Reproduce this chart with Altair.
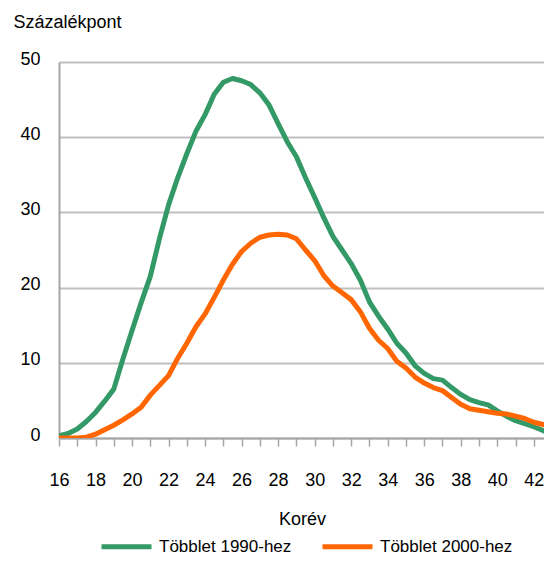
import altair as alt
import pandas as pd

ages = [16 + 0.5 * i for i in range(55)]

green_1990 = [0.3, 0.6, 1.2, 2.2, 3.4, 4.9, 6.5, 10.5, 14.3, 18.0,
              21.5, 26.5, 31.0, 34.6, 37.8, 40.8, 43.0, 45.7, 47.3, 47.8,
              47.5, 47.0, 45.9, 44.3, 41.8, 39.4, 37.4, 34.6, 32.0, 29.3,
              26.8, 25.0, 23.2, 21.0, 18.1, 16.2, 14.5, 12.6, 11.3, 9.6,
              8.6, 7.9, 7.7, 6.7, 5.8, 5.1, 4.7, 4.4, 3.6, 2.9,
              2.3, 1.9, 1.5, 1.0, 0.5]

orange_2000 = [0.0, 0.0, 0.0, 0.1, 0.5, 1.1, 1.7, 2.4, 3.2, 4.1,
               5.7, 7.0, 8.3, 10.6, 12.6, 14.8, 16.5, 18.7, 21.0, 23.1,
               24.8, 25.9, 26.7, 27.0, 27.1, 27.0, 26.5, 25.0, 23.6, 21.6,
               20.2, 19.3, 18.4, 16.8, 14.6, 13.0, 11.9, 10.2, 9.3, 8.1,
               7.3, 6.7, 6.3, 5.4, 4.5, 3.9, 3.7, 3.5, 3.3, 3.2,
               2.9, 2.6, 2.1, 1.8, 1.4]

series_names = ["Többlet 1990-hez", "Többlet 2000-hez"]
series_colors = ["#339966", "#ff6600"]
x_ticks = list(range(16, 43))
y_ticks = [0, 10, 20, 30, 40, 50]

rows = []
for a, v in zip(ages, green_1990):
    rows.append({"age": a, "value": v, "series": series_names[0]})
for a, v in zip(ages, orange_2000):
    rows.append({"age": a, "value": v, "series": series_names[1]})
df = pd.DataFrame(rows)

FONT = "Liberation Sans"

chart = alt.Chart(df).mark_line(strokeWidth=5, strokeJoin="round", clip=True).encode(
    x=alt.X("age:Q",
            scale=alt.Scale(domain=[16, 42.56], nice=False, zero=False),
            axis=alt.Axis(values=x_ticks, grid=False, title="Korév",
                          labelExpr="datum.value % 2 == 0 ? datum.label : ''",
                          domainColor="#a6a6a6", domainWidth=2,
                          tickColor="#a6a6a6", tickWidth=1.5, tickSize=8,
                          labelPadding=25, labelFontSize=18, labelFont=FONT,
                          labelColor="#000000", labelFlush=False,
                          titleFont=FONT, titleFontSize=18, titleFontWeight="normal",
                          titleColor="#000000", titleX=243, titleY=81,
                          titleBaseline="middle")),
    y=alt.Y("value:Q",
            scale=alt.Scale(domain=[0, 50], nice=False),
            axis=alt.Axis(values=y_ticks, grid=True, gridColor="#c0c0c0",
                          gridWidth=2, ticks=False,
                          domainColor="#a6a6a6", domainWidth=2,
                          labelPadding=19, labelFontSize=18, labelFont=FONT,
                          labelColor="#000000", labelOffset=-3,
                          title="Százalékpont", titleAngle=0, titleAlign="left",
                          titleBaseline="alphabetic", titleX=-46, titleY=-35,
                          titleFont=FONT, titleFontSize=18, titleFontWeight="normal",
                          titleColor="#000000")),
    color=alt.Color("series:N",
                    scale=alt.Scale(domain=series_names, range=series_colors),
                    legend=alt.Legend(title=None, orient="none", direction="horizontal",
                                      legendX=40, legendY=457, padding=0,
                                      symbolType="stroke", symbolSize=2500,
                                      symbolStrokeWidth=5, labelOffset=5,
                                      columnPadding=20, labelFont=FONT,
                                      labelFontSize=17, labelColor="#000000")),
).properties(
    width=485, height=376,
    autosize=alt.AutoSizeParams(type="none"),
    padding={"left": 51, "top": 54, "right": 0, "bottom": 118},
).configure_view(stroke=None)

chart.save("out.html", embed_options={"renderer": "svg", "actions": False})
